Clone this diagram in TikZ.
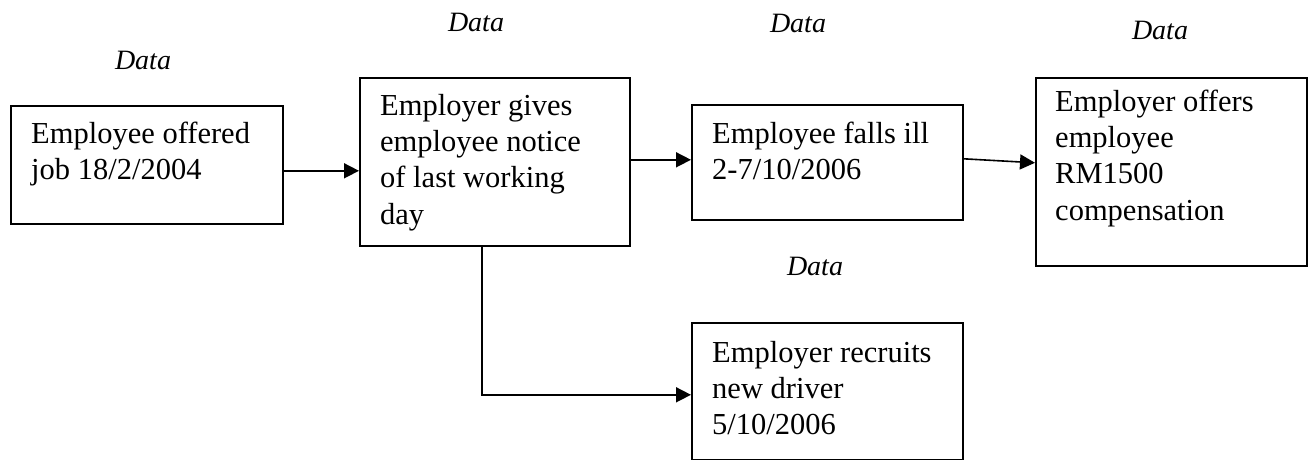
\documentclass[tikz,border=0pt]{standalone}
\usepackage{fontspec}
\setmainfont{Liberation Serif}
\usetikzlibrary{arrows.meta}
\begin{document}
\begin{tikzpicture}[x=1pt,y=-1pt,
  box/.style={draw=black, line width=1.6pt, rectangle, inner sep=0pt, anchor=north west},
  txt/.style={anchor=north west, inner sep=0pt, align=left, font=\fontsize{30.5}{36.3}\selectfont},
  lab/.style={anchor=base, inner sep=0pt, font=\fontsize{28}{32}\selectfont\itshape},
  arr/.style={line width=1.6pt, -{Triangle[length=15pt,width=15pt]}}]
\useasboundingbox (0,0) rectangle (1311,460);
% boxes
\node[box, minimum width=272pt, minimum height=118pt] (A) at (10,105) {};
\node[box, minimum width=270pt, minimum height=168pt] (B) at (359,77) {};
\node[box, minimum width=271pt, minimum height=115pt] (C) at (691,104) {};
\node[box, minimum width=271pt, minimum height=188pt] (D) at (1035,77) {};
\node[box, minimum width=271pt, minimum height=137pt] (E) at (691,322) {};
% texts
\node[txt] (tA) at (31,122) {Employee offered\\job 18/2/2004};
\node[txt] (tB) at (380,94) {Employer gives\\employee notice\\of last working\\day};
\node[txt] (tC) at (712,122) {Employee falls ill\\2-7/10/2006};
\node[txt] (tD) at (1055,89.5) {Employer offers\\employee\\RM1500\\compensation};
\node[txt] (tE) at (712,341) {Employer recruits\\new driver\\5/10/2006};
% labels
\node[lab] (l1) at (143,70) {Data};
\node[lab] (l2) at (476,32) {Data};
\node[lab] (l3) at (798,33) {Data};
\node[lab] (l4) at (1160,40) {Data};
\node[lab] (l5) at (815,275) {Data};
% connectors
\draw[arr] ([yshift=-6pt]A.east) -- ([yshift=-6pt]A.east -| B.west);
\draw[arr] ([yshift=2pt]B.east) -- ([yshift=2pt]B.east -| C.west);
\draw[arr] ([yshift=3.5pt]C.east) -- ([yshift=9pt]D.west);
\coordinate (bs) at ([xshift=-13pt]B.south);
\coordinate (ew) at ([yshift=-3.5pt]E.west);
\draw[arr] (bs) |- (ew);
\end{tikzpicture}
\end{document}
